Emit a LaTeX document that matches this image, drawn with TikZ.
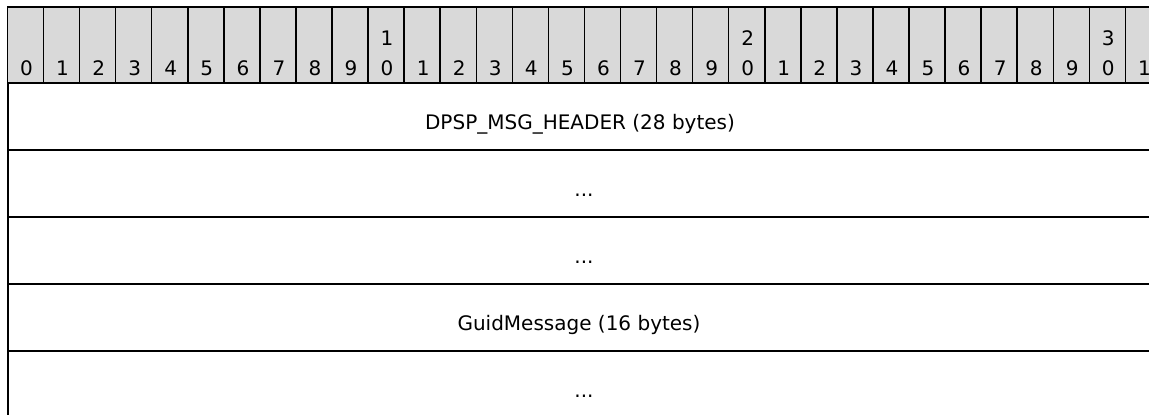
\documentclass[tikz,border=0pt]{standalone}
\usepackage{fontspec}
\setmainfont{DejaVu Sans}

\begin{document}
\begin{tikzpicture}[x=1pt,y=-1pt,
        bitcell/.style={draw,line width=1.5pt,fill=black!15},
        rowline/.style={line width=2pt},
        bitnum/.style={font=\fontsize{20}{24}\selectfont,anchor=base},
        field/.style={font=\fontsize{20}{24}\selectfont,anchor=base}]
    \useasboundingbox (0,0) rectangle (1149,415);
    \begin{scope}
        \clip (0,0) rectangle (1149,415);
        % bit numbers
        \foreach \i in {0,...,31} {
            \draw[bitcell] ({7.5+36.06*\i},7) rectangle ++(36.06,76);
        }
        \foreach \i in {0,...,9} {
            \node[bitnum] (bit\i) at ({26.5+36.06*\i},75) {\i};
        }
        \foreach \i in {10,...,31} {
            \pgfmathtruncatemacro{\tens}{int(\i/10)}
            \pgfmathtruncatemacro{\ones}{mod(\i,10)}
            \node[bitnum] (bit\i) at ({26.5+36.06*\i},75) {\ones};
            \node[bitnum] (tens\i) at ({26.5+36.06*\i},45) {\ifnum\ones=0 \tens\fi};
        }
        % field rows
        \draw[rowline] (7.5,83) -- (7.5,415);
        \draw[rowline] (7.5,150) -- (1149,150);
        \draw[rowline] (7.5,217) -- (1149,217);
        \draw[rowline] (7.5,284) -- (1149,284);
        \draw[rowline] (7.5,351) -- (1149,351);
        \node[field] (header) at (580,129) {DPSP\_MSG\_HEADER (28 bytes)};
        \node[field] (gap1) at (584,196) {...};
        \node[field] (gap2) at (584,263) {...};
        \node[field] (guid) at (579,330) {GuidMessage (16 bytes)};
        \node[field] (gap3) at (584,397) {...};
    \end{scope}
\end{tikzpicture}
\end{document}
